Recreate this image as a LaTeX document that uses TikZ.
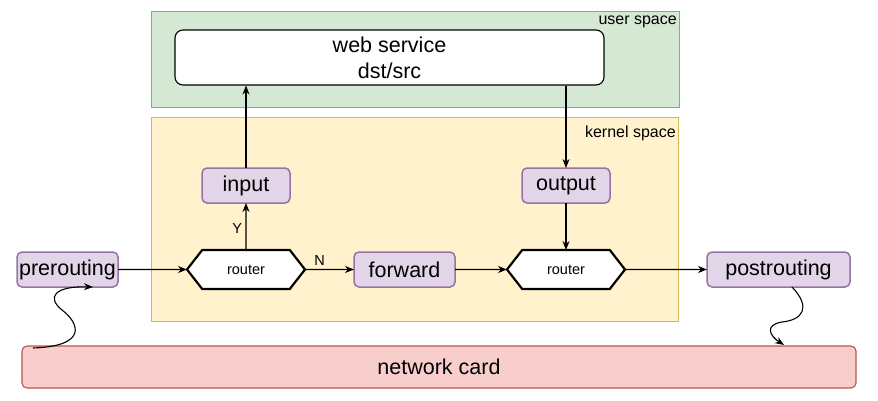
\documentclass[tikz,border=0pt]{standalone}
\usepackage{fontspec}
\setmainfont{Liberation Sans}
\usetikzlibrary{positioning, arrows.meta, shapes.symbols}
\definecolor{hookfill}{HTML}{E1D5E7}
\definecolor{hookline}{HTML}{9673A6}
\definecolor{userfill}{HTML}{D5E8D4}
\definecolor{userline}{HTML}{82B366}
\definecolor{kernfill}{HTML}{FFF2CC}
\definecolor{kernline}{HTML}{D6B656}
\definecolor{cardfill}{HTML}{F8CECC}
\definecolor{cardline}{HTML}{B85450}
\newcommand{\biglabel}{\fontsize{21.5}{26}\selectfont}
\newcommand{\smalllabel}{\fontsize{14.5}{17}\selectfont}
\newcommand{\spacelabel}{\fontsize{16}{19}\selectfont}
\tikzset{%
  hook/.style={draw=hookline, fill=hookfill, rounded corners=5pt, outer sep=0pt,
    line width=1.5pt, minimum height=35pt, inner sep=0pt, font=\biglabel},
  router/.style={signal, signal to=west and east, signal pointer angle=104,
    draw, line width=2.2pt, fill=white, minimum width=118pt, outer sep=0pt,
    minimum height=39pt, inner sep=0pt, font=\smalllabel},
  spacebox/.style={draw=#1line, fill=#1fill, line width=1pt, inner sep=0pt},
  flow/.style={draw, -{Stealth[length=9pt, width=7pt]}, line width=1.1pt},
  every edge/.style={flow}
}

\begin{document}
\begin{tikzpicture}[x=1pt, y=1pt]
    \useasboundingbox (0,0) rectangle (878,-401);

    % the two areas
    \node[spacebox=user, minimum width=528pt, minimum height=96pt] (user) at (415,-60) {};
    \node[spacebox=kern, minimum width=527pt, minimum height=203pt] (kern) at (414.5,-219.5) {};
    \node[anchor=north east, font=\spacelabel, inner sep=0pt] (userlbl) at (677,-16) {user space};
    \node[anchor=north east, font=\spacelabel, inner sep=0pt] (kernlbl) at (676,-126) {kernel space};

    \node[draw, fill=white, rounded corners=8pt, line width=1.1pt, minimum width=429pt,
      minimum height=55pt, align=center, font=\biglabel] (web) at (389.5,-57.5) {web service\\dst/src};

    \node[draw=cardline, fill=cardfill, rounded corners=5pt, line width=1.1pt, minimum width=834pt,
      minimum height=42pt, font=\biglabel] (card) at (439,-367) {network card};

    % hooks and routers along the path
    \node[hook, minimum width=101pt] (pre) at (67.5,-269.5) {prerouting};
    \node[router, right=69pt of pre] (r1) {router};
    \node[hook, minimum width=101pt, right=49pt of r1] (fwd) {forward};
    \node[router, right=52pt of fwd] (r2) {router};
    \node[hook, minimum width=143pt, right=82pt of r2] (post) {postrouting};
    \node[hook, minimum width=88pt, above=47pt of r1] (in) {input};
    \node[hook, minimum width=88pt, above=47pt of r2] (out) {output};

    \coordinate (cardout) at (33,-348);
    \coordinate (prein) at (93,-287);
    \coordinate (postout) at (792,-287);
    \coordinate (cardin) at (784,-345);

    \draw (pre) edge (r1);
    \draw (r1) edge node[above, pos=0.3, font=\smalllabel] {N} (fwd);
    \draw (r1) edge node[left, pos=0.45, font=\smalllabel] {Y} (in);
    \draw (in) edge (in |- web.south);
    \draw (web.south -| out) edge (out);
    \draw (out) edge (r2);
    \draw (fwd) edge (r2);
    \draw (r2) edge (post);

    \draw[flow] (cardout) .. controls (90,-346) and (78,-322) .. (62,-310)
      .. controls (46,-297) and (55,-286) .. (prein);
    \draw[flow] (postout) .. controls (812,-308) and (802,-320) .. (782,-322)
      .. controls (764,-325) and (770,-336) .. (cardin);
\end{tikzpicture}
\end{document}
